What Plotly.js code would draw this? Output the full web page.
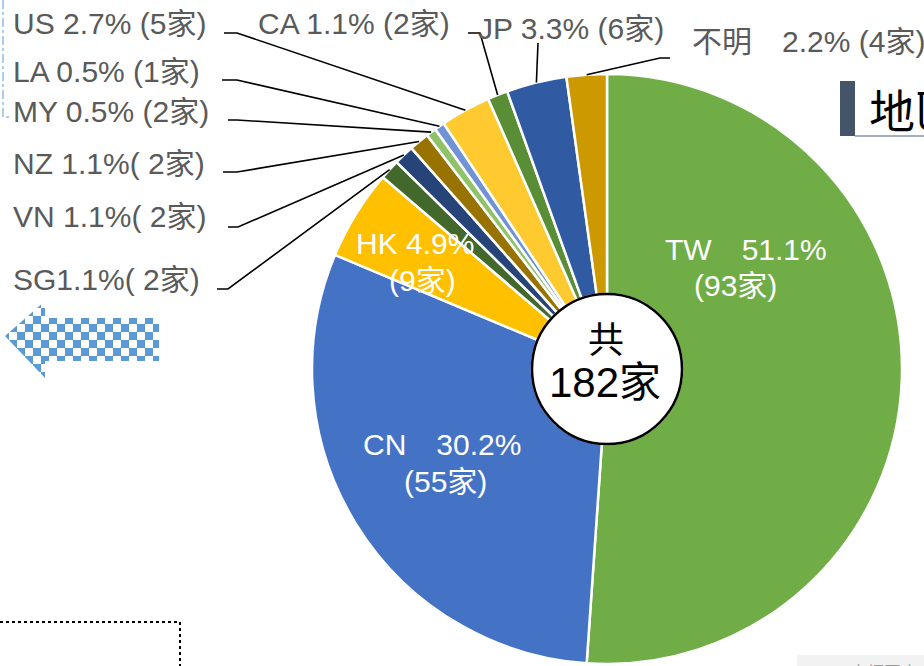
<!DOCTYPE html>
<html>
<head>
<meta charset="utf-8">
<script src="https://cdn.plot.ly/plotly-3.0.1.min.js"></script>
<style>html,body{margin:0;padding:0;background:#fff;overflow:hidden}#chart{width:924px;height:666px}</style>
</head>
<body>
<div id="chart"></div>
<script>
// ---- data ----
const regions = ['TW', 'CN', 'HK', 'SG', 'VN', 'NZ', 'MY', 'LA', 'US', 'CA', 'JP', '不明'];
const counts  = [93, 55, 9, 2, 2, 2, 1, 1, 5, 2, 6, 4];
const sliceColors = ['#70ad47', '#4472c4', '#ffc000', '#43682b', '#264478', '#997300',
                     '#8fc36a', '#6f93d4', '#ffca30', '#5a8e36', '#305aa2', '#cc9900'];
const outsideLabels = ['SG1.1%( 2家)', 'VN 1.1%( 2家)', 'NZ 1.1%( 2家)', 'MY 0.5% (2家)',
                       'LA 0.5% (1家)', 'US 2.7% (5家)', 'CA 1.1% (2家)', 'JP 3.3% (6家)',
                       '不明　2.2% (4家)'];
const insideLine1 = ['TW　51.1%', 'CN　30.2%', 'HK 4.9%'];
const insideLine2 = ['(93家)', '(55家)', '(9家)'];
const centerLine1 = '共';
const centerLine2 = '182家';
const titleText = '地區';
const noteText = '未經同意';

// ---- layout helpers ----
const W = 924, H = 666;
const px = x => x / W;
const py = y => 1 - y / H;
const CX = 607, CY = 369, R = 295, HOLE_R = 75;
const FONT = '"Liberation Sans", Arial, "Noto Sans CJK TC", "Noto Sans CJK JP", sans-serif';
const CJK = '"Noto Sans CJK TC", "Noto Sans CJK JP", sans-serif';
const total = counts.reduce((a, b) => a + b, 0);

const trace = {
  type: 'pie',
  labels: regions,
  values: counts,
  sort: false,
  direction: 'clockwise',
  rotation: 0,
  hole: HOLE_R / R,
  textinfo: 'none',
  hoverinfo: 'label+value+percent',
  marker: {colors: sliceColors, line: {color: '#ffffff', width: 2.5}},
  domain: {x: [px(CX - R), px(CX + R)], y: [py(CY + R), py(CY - R)]},
  showlegend: false
};

// slice mid points on the rim (from data)
const cum = [];
counts.reduce((acc, c, i) => { cum[i] = acc; return acc + c; }, 0);
function rimPoint(i) {
  const a = (cum[i] + counts[i] / 2) / total * 2 * Math.PI;
  return [CX + R * Math.sin(a), CY - R * Math.cos(a)];
}

// outside label placement: [text x, text y center, line start x, line start y, knee x]
const outsidePlace = [
  [11, 279, 217, 289, 228],
  [11, 216, 228, 227, 238],
  [11, 163, 223, 172, 237],
  [11, 111, 228, 120, 237],
  [11, 71, 222, 80, 237],
  [11, 23, 224, 33, 237],
  [256, 23, 468, 33, 480],
  [476, 28, 538, 43, 538],
  [690, 41, 670, 58, 660]
];

const annotations = [];
const shapes = [];

outsideLabels.forEach((t, k) => {
  const idx = k + 3;
  const p = outsidePlace[k];
  annotations.push({
    xref: 'paper', yref: 'paper', x: px(p[0]), y: py(p[1]),
    xanchor: 'left', yanchor: 'middle', showarrow: false, text: t, height: 34,
    font: {family: FONT, size: 30, color: '#5a5a5a'}
  });
  const e = rimPoint(idx);
  shapes.push({
    type: 'path', xref: 'paper', yref: 'paper', layer: 'above',
    path: `M${px(p[2])},${py(p[3])} L${px(p[4])},${py(p[3])} L${px(e[0])},${py(e[1])}`,
    line: {color: '#000000', width: 1.6}
  });
});

// inside labels
const insidePlace = [
  [663, 249, 692, 285],
  [361, 444, 402, 481],
  [354, 243, 387, 280]
];
insideLine1.forEach((t, k) => {
  const p = insidePlace[k];
  annotations.push({xref: 'paper', yref: 'paper', x: px(p[0]), y: py(p[1]), xanchor: 'left', yanchor: 'middle',
    showarrow: false, text: t, height: 34, font: {family: FONT, size: 30, color: '#ffffff'}});
  annotations.push({xref: 'paper', yref: 'paper', x: px(p[2]), y: py(p[3]), xanchor: 'left', yanchor: 'middle',
    showarrow: false, text: insideLine2[k], height: 34, font: {family: FONT, size: 30, color: '#ffffff'}});
});

// centre text
annotations.push({xref: 'paper', yref: 'paper', x: px(CX - 1), y: py(337), xanchor: 'center', yanchor: 'middle',
  showarrow: false, text: centerLine1, height: 40, font: {family: CJK, size: 36, color: '#000000'}});
annotations.push({xref: 'paper', yref: 'paper', x: px(CX - 2), y: py(382), xanchor: 'center', yanchor: 'middle',
  showarrow: false, text: centerLine2, height: 44, font: {family: FONT, size: 42, color: '#000000'}});

// title fragment at right
annotations.push({xref: 'paper', yref: 'paper', x: px(867), y: py(108), xanchor: 'left', yanchor: 'middle',
  showarrow: false, text: titleText, font: {family: CJK, size: 46, color: '#000000'}});
// note at bottom right
annotations.push({xref: 'paper', yref: 'paper', x: px(848), y: py(657), xanchor: 'left', yanchor: 'top',
  showarrow: false, text: noteText, font: {family: CJK, size: 17, color: '#9a9a9a'}});

// centre circle outline
shapes.push({type: 'circle', xref: 'paper', yref: 'paper', layer: 'above',
  x0: px(CX - HOLE_R), x1: px(CX + HOLE_R), y0: py(CY + HOLE_R), y1: py(CY - HOLE_R),
  fillcolor: 'rgba(255,255,255,0)', line: {color: '#000000', width: 2.5}});
// title bar
shapes.push({type: 'rect', xref: 'paper', yref: 'paper', layer: 'below',
  x0: px(840), x1: px(855), y0: py(136), y1: py(81), fillcolor: '#44546a', line: {width: 0}});
shapes.push({type: 'line', xref: 'paper', yref: 'paper', layer: 'below',
  x0: px(855), x1: px(924), y0: py(136), y1: py(136), line: {color: '#8496b0', width: 1.5}});
// bottom-right grey box
shapes.push({type: 'rect', xref: 'paper', yref: 'paper', layer: 'below',
  x0: px(797), x1: px(924), y0: py(666), y1: py(655), fillcolor: '#f2f2f2', line: {width: 0}});
// dotted box bottom-left
shapes.push({type: 'path', xref: 'paper', yref: 'paper', layer: 'above',
  path: `M${px(0)},${py(622)} L${px(180)},${py(622)} L${px(180)},${py(666)}`,
  line: {color: '#000000', width: 2, dash: 'dot'}});
// blue dash-dot frame at top-left
shapes.push({type: 'path', xref: 'paper', yref: 'paper', layer: 'above',
  path: `M${px(3)},${py(0)} L${px(3)},${py(117)} L${px(12)},${py(117)}`,
  line: {color: '#5b9bd5', width: 1, dash: 'dashdot'}});

// checkered arrow
const arrowSvg = "<svg xmlns='http://www.w3.org/2000/svg' width='160' height='82' viewBox='0 0 160 82'>" +
  "<defs><pattern id='p' x='1' y='1' width='16' height='16' patternUnits='userSpaceOnUse'>" +
  "<rect width='16' height='16' fill='#ffffff'/><rect width='8' height='8' fill='#5b9bd5'/>" +
  "<rect x='8' y='8' width='8' height='8' fill='#5b9bd5'/></pattern></defs>" +
  "<path d='M5,37 L45,2 L45,19 L159,19 L159,62 L45,62 L45,79 Z' fill='url(#p)'/></svg>";
const images = [{
  source: 'data:image/svg+xml;charset=utf-8,' + encodeURIComponent(arrowSvg),
  xref: 'paper', yref: 'paper', x: px(0), y: py(299), sizex: 160 / W, sizey: 82 / H,
  xanchor: 'left', yanchor: 'top', sizing: 'stretch', layer: 'above'
}];

const layout = {
  width: W, height: H,
  margin: {l: 0, r: 0, t: 0, b: 0, pad: 0},
  paper_bgcolor: '#ffffff', plot_bgcolor: '#ffffff',
  showlegend: false,
  annotations: annotations,
  shapes: shapes,
  images: images
};

Plotly.newPlot('chart', [trace], layout, {staticPlot: true, displayModeBar: false});
</script>
</body>
</html>
